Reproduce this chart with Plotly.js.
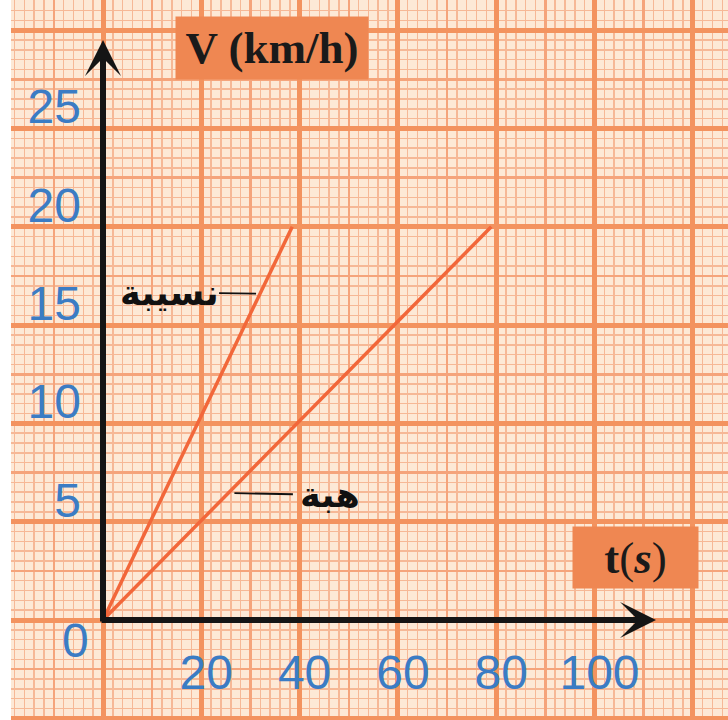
<!DOCTYPE html>
<html><head><meta charset="utf-8">
<script src="https://cdn.plot.ly/plotly-3.0.1.min.js"></script>
<style>html,body{margin:0;padding:0;background:#fff}#chart{width:728px;height:720px}</style>
</head><body><div id="chart"></div>
<script>
// ---- data ----
const timeTicks = [20, 40, 60, 80, 100];
const speedTicks = [0, 5, 10, 15, 20, 25];
const nasibaTime = [0, 38.5];
const nasibaSpeed = [0, 20];
const hibaTime = [0, 79];
const hibaSpeed = [0, 20];
const seriesNames = ['نسيبة', 'هبة'];
const yTitle = 'V (km/h)';
const xTitle = 't(s)';

// ---- geometry (pixels) ----
const W = 728, H = 720, ML = 11;
const OX = 103, OY = 620;          // origin in px
const PX_X = 98.3 / 20;            // px per second
const PX_Y = 98.3 / 5;             // px per km/h
const xRange = [(ML - OX) / PX_X, (W - OX) / PX_X];
const yRange = [(OY - H) / PX_Y, OY / PX_Y];
const px = v => (v - ML) / (W - ML);
const py = v => 1 - v / H;

const lineColor = '#f2673a';
const boxColor = '#ef8752';
const blue = '#3b7cc4';

const traces = [
  {x: nasibaTime, y: nasibaSpeed, name: seriesNames[0],
   mode: 'lines', line: {color: lineColor, width: 3.5}, hoverinfo: 'skip'},
  {x: hibaTime, y: hibaSpeed, name: seriesNames[1],
   mode: 'lines', line: {color: lineColor, width: 3.5}, hoverinfo: 'skip'},
  // placeholder so the overlay (major grid + labels) axes exist
  {x: [null], y: [null], xaxis: 'x2', yaxis: 'y2', mode: 'lines', hoverinfo: 'skip', showlegend: false}
];

const tickFont = {family: 'Liberation Sans, Arial, sans-serif', size: 48, color: blue};

const layout = {
  width: W, height: H,
  margin: {l: ML, r: 0, t: 0, b: 0, pad: 0},
  paper_bgcolor: '#ffffff',
  plot_bgcolor: '#fde9d6',
  showlegend: false,
  xaxis: {range: xRange, showticklabels: false, ticks: '', zeroline: false, showline: false,
          tick0: 0, dtick: 10, showgrid: true, gridcolor: '#f5a47b', gridwidth: 2.5,
          minor: {tick0: 0, dtick: 2, showgrid: true, gridcolor: '#f6b896', gridwidth: 1.5, ticks: ''}},
  yaxis: {range: yRange, showticklabels: false, ticks: '', zeroline: false, showline: false,
          tick0: 0, dtick: 2.5, showgrid: true, gridcolor: '#f5a47b', gridwidth: 2.5,
          minor: {tick0: 0, dtick: 0.5, showgrid: true, gridcolor: '#f6b896', gridwidth: 1.5, ticks: ''}},
  xaxis2: {overlaying: 'x', range: xRange, anchor: 'free', position: py(OY), side: 'bottom',
           tickmode: 'array', tickvals: [0, 20, 40, 60, 80, 100, 120], ticktext: ['', ...timeTicks.map(String), ''],
           ticks: '', zeroline: false, showline: false,
           showgrid: true, gridcolor: '#f3935f', gridwidth: 5,
           tickfont: tickFont, ticklabelstandoff: 20, ticklabelshift: 5},
  yaxis2: {overlaying: 'y', range: yRange, anchor: 'free', position: px(OX), side: 'left',
           tickmode: 'array', tickvals: [-5, ...speedTicks, 30], ticktext: ['', '', ...speedTicks.slice(1).map(String), ''],
           ticks: '', zeroline: false, showline: false,
           showgrid: true, gridcolor: '#f3935f', gridwidth: 5,
           tickfont: tickFont, ticklabelstandoff: 22, ticklabelshift: -22},
  annotations: [
    // axis arrows
    {xref: 'x', yref: 'y', axref: 'x', ayref: 'y', x: (656 - OX) / PX_X, y: 0, ax: -0.6, ay: 0,
     text: '', showarrow: true, arrowhead: 3, arrowsize: 1, arrowwidth: 6, arrowcolor: '#151515'},
    {xref: 'x', yref: 'y', axref: 'x', ayref: 'y', x: 0, y: (OY - 40) / PX_Y, ax: 0, ay: -0.15,
     text: '', showarrow: true, arrowhead: 3, arrowsize: 1, arrowwidth: 6, arrowcolor: '#151515'},
    // axis titles
    {xref: 'paper', yref: 'paper', x: px(272), y: py(48), text: '<b>' + yTitle + '</b>', showarrow: false,
     font: {family: 'Liberation Serif, Times New Roman, serif', size: 45, color: '#1a1a1a'},
     bgcolor: boxColor, width: 190, height: 60, xanchor: 'center', yanchor: 'middle'},
    {xref: 'paper', yref: 'paper', x: px(635.5), y: py(557.5), text: '<b>t</b>(<b><i>s</i></b>)', showarrow: false,
     font: {family: 'Liberation Serif, Times New Roman, serif', size: 45, color: '#1a1a1a'},
     bgcolor: boxColor, width: 123, height: 59, xanchor: 'center', yanchor: 'middle'},
    // "0" label at origin
    {xref: 'x', yref: 'y', x: 0, y: 0, xshift: -28, yshift: -20, text: String(speedTicks[0]),
     showarrow: false, font: tickFont},
    // series labels with leaders
    {xref: 'x', yref: 'y', x: 16.6 / nasibaSpeed[1] * nasibaTime[1], y: 16.6, ax: -91, ay: -1,
     text: '<b>' + seriesNames[0] + '</b>', showarrow: true, arrowhead: 0, arrowwidth: 1.8, arrowcolor: '#111',
     standoff: 4, borderpad: 0, font: {family: 'DejaVu Sans, sans-serif', size: 35, color: '#111'}},
    {xref: 'x', yref: 'y', x: 6.46 / hibaSpeed[1] * hibaTime[1], y: 6.46, ax: 102, ay: 2,
     text: '<b>' + seriesNames[1] + '</b>', showarrow: true, arrowhead: 0, arrowwidth: 1.8, arrowcolor: '#111',
     standoff: 6, borderpad: 7, font: {family: 'DejaVu Sans, sans-serif', size: 35, color: '#111'}}
  ]
};

Plotly.newPlot('chart', traces, layout, {displayModeBar: false, staticPlot: true});
</script></body></html>
